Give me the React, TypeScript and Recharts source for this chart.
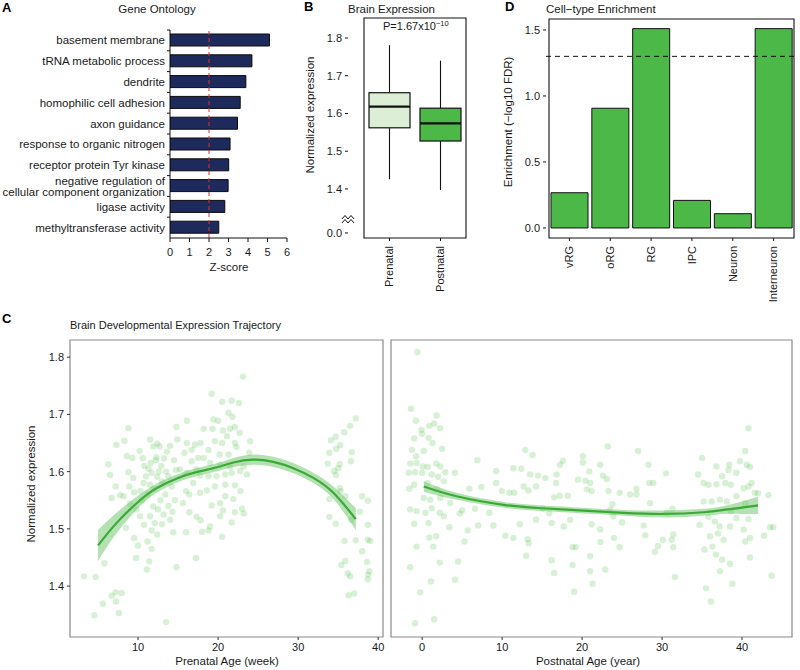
import React from "react";
import {
  BarChart,
  Bar,
  XAxis,
  YAxis,
  ReferenceLine,
  ReferenceArea,
  ComposedChart,
  Line,
  Area,
  Scatter,
} from "recharts";

const FONT = '"Liberation Sans", Arial, Helvetica, sans-serif';
const GREEN = "#4cb848";
const LINE_GREEN = "#3aa935";
const NAVY = "#1f2a5c";
const TXT = "#1a1a1a";

// ---------- Panel A: Gene Ontology ----------
const goTerms = [
  "basement membrane",
  "tRNA metabolic process",
  "dendrite",
  "homophilic cell adhesion",
  "axon guidance",
  "response to organic nitrogen",
  "receptor protein Tyr kinase",
  "negative regulation of\ncellular component organization",
  "ligase activity",
  "methyltransferase activity",
];
const goZ = [5.1, 4.2, 3.89, 3.6, 3.46, 3.08, 3.01, 2.98, 2.81, 2.5];
const goTicks = [0, 1, 2, 3, 4, 5, 6];
const goThreshold = 2;

// ---------- Panel B: Brain expression box plot ----------
const bCategories = ["Prenatal", "Postnatal"];
const bLow = [1.426, 1.397];
const bQ1 = [1.562, 1.527];
const bMedian = [1.618, 1.574];
const bQ3 = [1.655, 1.614];
const bHigh = [1.781, 1.74];
const bFills = ["#dcefd6", GREEN];
const bTickValues = [1.2834, 1.4, 1.5, 1.6, 1.7, 1.8];
const bTickLabels = ["0.0", "1.4", "1.5", "1.6", "1.7", "1.8"];

// ---------- Panel D: Cell-type enrichment ----------
const dCategories = ["vRG", "oRG", "RG", "IPC", "Neuron", "Interneuron"];
const dValues = [0.267, 0.907, 1.51, 0.209, 0.108, 1.51];
const dTicks = [0, 0.5, 1.0, 1.5];
const dThreshold = 1.3;

// ---------- Panel C: trajectories ----------
const prenatalPoints: [number, number][] = [
  [8.8, 1.676], [7.3, 1.647], [8.3, 1.654], [6.3, 1.613], [6.5, 1.594], [7.2, 1.574], [6.7, 1.554], [7.75, 1.559],
  [8.2, 1.557], [8.6, 1.627], [8.8, 1.599], [9.3, 1.624], [10.2, 1.636], [10.6, 1.624], [9.4, 1.589], [8.9, 1.574],
  [9.5, 1.564], [10.3, 1.566], [9.0, 1.544], [9.8, 1.534], [8.5, 1.502], [9.5, 1.484], [10, 1.471], [9.75, 1.449],
  [5.8, 1.44], [11.1, 1.429], [11.4, 1.443], [11.7, 1.465], [11.2, 1.478], [11.5, 1.656], [11.9, 1.644], [12.4, 1.649],
  [12.7, 1.644], [11.6, 1.615], [12.25, 1.62], [13.25, 1.623], [14, 1.645], [13.6, 1.635], [14.8, 1.678], [14.9, 1.656],
  [11, 1.592], [11.7, 1.598], [12.4, 1.591], [13, 1.583], [13.8, 1.592], [14.2, 1.574], [14.75, 1.603], [11.5, 1.577],
  [10.7, 1.58], [11.9, 1.539], [12.5, 1.534], [11.5, 1.522], [13.2, 1.525], [14, 1.516], [12.1, 1.51], [13, 1.508],
  [11.7, 1.497], [12.4, 1.49], [14.4, 1.494], [10.75, 1.507], [10.25, 1.522], [14.8, 1.433], [13.5, 1.337], [3.25, 1.417],
  [4.7, 1.416], [4.55, 1.349], [5.6, 1.369], [6.7, 1.383], [7.2, 1.389], [7.95, 1.388], [7.25, 1.373], [7.6, 1.353],
  [12.3, 1.625], [12.9, 1.61], [13.5, 1.6], [14.5, 1.62], [12, 1.57], [13.4, 1.56], [14.6, 1.55], [10.5, 1.55],
  [11.2, 1.56], [13.8, 1.54], [12.8, 1.55], [14.3, 1.53], [10.8, 1.61], [12.6, 1.6], [11.3, 1.605],
  [23.1, 1.766], [19.2, 1.736], [20.5, 1.722], [21.7, 1.724], [22.6, 1.72], [21.3, 1.703], [21.8, 1.696], [19.4, 1.691],
  [20, 1.689], [16.1, 1.689], [18.2, 1.675], [19.3, 1.675], [20.6, 1.672], [21.5, 1.675], [22.1, 1.678], [22.7, 1.668],
  [21.1, 1.662], [19.6, 1.653], [20.5, 1.65], [22.1, 1.65], [24, 1.653], [17.1, 1.647], [17.8, 1.65], [16.1, 1.65],
  [16.7, 1.638], [18.8, 1.638], [22.3, 1.643], [20.2, 1.63], [15.8, 1.633], [17.5, 1.624], [18.2, 1.624], [16.7, 1.618],
  [21.3, 1.63], [23.9, 1.633], [19, 1.615], [20.25, 1.612], [21.5, 1.609], [23.2, 1.609], [23.6, 1.595], [22.75, 1.601],
  [17.3, 1.604], [15.25, 1.604], [16.1, 1.598], [17.75, 1.593], [18.8, 1.592], [19.8, 1.592], [20.9, 1.595], [21.7, 1.598],
  [16.9, 1.58], [19.6, 1.574], [20.9, 1.577], [22.1, 1.576], [18.6, 1.567], [16, 1.566], [22.8, 1.566], [17.75, 1.563],
  [16.4, 1.56], [20.9, 1.557], [21.9, 1.552], [15.6, 1.545], [19.2, 1.541], [20.25, 1.545], [16.4, 1.529], [20.6, 1.532],
  [22.1, 1.529], [23.2, 1.527], [23, 1.535], [17.3, 1.521], [20.25, 1.522], [17.8, 1.515], [21.7, 1.511], [19, 1.504],
  [18.8, 1.497], [18, 1.495], [16, 1.494], [20.5, 1.486], [17.25, 1.449],
  [37.2, 1.693], [36.5, 1.68], [35.75, 1.669], [34.7, 1.661], [34.1, 1.655], [35.25, 1.646], [34.75, 1.64], [33.9, 1.633],
  [36.7, 1.634], [36.6, 1.618], [33.7, 1.614], [35.2, 1.613], [35, 1.606], [34.5, 1.601], [34.7, 1.594], [35.2, 1.571],
  [35.3, 1.566], [35.9, 1.557], [33.9, 1.552], [38, 1.557], [38.7, 1.549], [37.7, 1.53], [33.9, 1.521], [36.6, 1.516],
  [34.7, 1.509], [38.7, 1.507], [35.8, 1.479], [37.2, 1.48], [38.7, 1.481], [39, 1.479], [38, 1.461], [35.9, 1.444],
  [35.4, 1.437], [38.6, 1.442], [36.2, 1.422], [36.5, 1.417], [38.9, 1.426], [38.75, 1.42], [38.7, 1.412], [36.3, 1.384],
  [37, 1.387],
];

const postnatalPoints: [number, number][] = [
  [-0.6, 1.809], [-1.4, 1.71], [-0.8, 1.689], [-0.1, 1.673], [1.8, 1.698], [1.5, 1.684], [0.9, 1.68], [2.25, 1.676],
  [-1.0, 1.658], [0, 1.666], [0.8, 1.659], [1.3, 1.65], [-1.3, 1.638], [0.2, 1.636], [2.5, 1.64], [-0.75, 1.627],
  [-1.5, 1.614], [-0.7, 1.615], [0.1, 1.609], [0.7, 1.608], [1.75, 1.614], [2.25, 1.609], [-1.7, 1.598], [-0.9, 1.599],
  [0, 1.598], [1.2, 1.595], [2, 1.591], [2.9, 1.599], [4.1, 1.598], [-1.0, 1.577], [-1.6, 1.57], [0.7, 1.58],
  [1.8, 1.569], [2.7, 1.583], [3.5, 1.545], [0.2, 1.554], [1, 1.551], [2.25, 1.554], [-1.5, 1.534], [-0.7, 1.531],
  [0.4, 1.528], [1.2, 1.536], [2.2, 1.528], [2.7, 1.522], [-1, 1.509], [0.8, 1.51], [1.75, 1.487], [0.9, 1.485],
  [3.4, 1.503], [4.7, 1.527], [5, 1.532], [5.3, 1.478], [1.4, 1.469], [-0.7, 1.469], [2.2, 1.441], [4.5, 1.443],
  [-1.5, 1.433], [1.1, 1.408], [4.1, 1.411], [-0.25, 1.389], [1.5, 1.342], [-0.9, 1.335], [5.7, 1.497], [5.9, 1.57],
  [6.9, 1.62], [6.6, 1.535], [7.0, 1.506], [7.4, 1.573], [9.25, 1.601], [8.9, 1.506], [8.4, 1.528], [9.25, 1.58],
  [9.96, 1.566], [10.4, 1.488], [10.9, 1.563], [11.4, 1.606], [11.5, 1.563], [12.4, 1.605], [12.7, 1.574], [12.2, 1.508],
  [11.4, 1.484], [13.0, 1.453], [12.9, 1.638], [13.8, 1.629], [13.3, 1.567], [14.25, 1.574], [13.5, 1.595], [13.2, 1.482],
  [13.3, 1.475], [14.25, 1.516], [15.1, 1.535], [15.4, 1.589], [14.5, 1.593], [16.2, 1.445], [16.5, 1.423], [16.2, 1.51],
  [15.9, 1.527], [16.5, 1.555], [16.8, 1.595], [17.25, 1.612], [17.6, 1.619], [16.75, 1.58], [17.2, 1.558], [18.2, 1.558],
  [18.5, 1.516], [17.7, 1.504], [18.8, 1.468], [19.2, 1.468], [18.8, 1.437], [19.0, 1.39], [19.5, 1.586], [20.1, 1.616],
  [20.1, 1.627], [20.4, 1.584], [20.6, 1.569], [21, 1.58], [21.2, 1.566], [20.9, 1.6], [21.2, 1.508], [21, 1.452],
  [21, 1.426], [21.3, 1.404], [22.25, 1.612], [22.3, 1.477], [22.25, 1.499], [22.6, 1.593], [23.1, 1.587], [23.3, 1.566],
  [23.2, 1.644], [22.9, 1.429], [23.5, 1.534], [23.9, 1.522], [24.0, 1.484], [24.7, 1.468], [24.7, 1.563], [23.8, 1.543],
  [25, 1.511], [26, 1.56], [26.8, 1.56], [27, 1.636], [26.8, 1.57], [27.7, 1.506], [27.9, 1.489], [28.3, 1.612],
  [28.4, 1.58], [28.9, 1.58], [29.1, 1.46], [29.5, 1.47], [28.5, 1.545], [30.5, 1.597], [30.6, 1.528], [30.1, 1.481],
  [31.2, 1.481], [31.4, 1.468], [31.4, 1.49], [31.6, 1.416], [31.3, 1.535], [34.5, 1.595], [35, 1.624], [34.7, 1.507],
  [35.3, 1.464], [35.5, 1.396], [36.1, 1.373], [35.2, 1.58], [35.8, 1.577], [36.2, 1.548], [35.2, 1.548], [35.8, 1.521],
  [36, 1.487], [36.3, 1.469], [36.8, 1.609], [37.5, 1.592], [36.8, 1.578], [37.9, 1.58], [37.25, 1.551], [38.1, 1.548],
  [36.6, 1.513], [37.2, 1.504], [37, 1.492], [37.7, 1.481], [36.75, 1.455], [37.5, 1.446], [37.25, 1.426], [38.5, 1.439],
  [38.8, 1.404], [38.4, 1.612], [38.3, 1.603], [39.3, 1.598], [39.75, 1.618], [40.4, 1.636], [40.8, 1.676], [40.6, 1.612],
  [41, 1.608], [40.2, 1.571], [40.8, 1.574], [41.2, 1.58], [38.6, 1.577], [39.3, 1.557], [40.4, 1.545], [41.6, 1.563],
  [42, 1.562], [38.6, 1.531], [39.3, 1.519], [40.8, 1.517], [38.5, 1.504], [40.2, 1.499], [41, 1.484], [41, 1.45],
  [40.4, 1.478], [43.3, 1.559], [42.75, 1.488], [43.5, 1.503], [43.9, 1.503], [43.7, 1.418],
];

const prenatalFitAge = [5, 7.3, 10, 12.3, 15, 17.3, 20, 21.9, 24.4, 26.9, 29.4, 31.9, 34.4, 37.2];
const prenatalFit = [1.471, 1.51, 1.547, 1.571, 1.589, 1.599, 1.608, 1.616, 1.621, 1.617, 1.606, 1.589, 1.563, 1.517];
const prenatalSE = [0.027, 0.018, 0.011, 0.008, 0.007, 0.007, 0.007, 0.008, 0.009, 0.009, 0.009, 0.009, 0.011, 0.019];

const postnatalFitAge = [0.2, 4.3, 10.2, 15, 20.2, 25.2, 30.2, 35.2, 37.7, 40, 42];
const postnatalFit = [1.574, 1.557, 1.542, 1.536, 1.532, 1.528, 1.526, 1.529, 1.533, 1.537, 1.541];
const postnatalSE = [0.009, 0.006, 0.005, 0.005, 0.005, 0.005, 0.006, 0.006, 0.007, 0.011, 0.015];

const cYTicks = [1.4, 1.5, 1.6, 1.7, 1.8];
const cYDomain: [number, number] = [1.311, 1.83];
const prenatalXTicks = [10, 20, 30, 40];
const prenatalXDomain: [number, number] = [1.5, 40.6];
const postnatalXTicks = [0, 10, 20, 30, 40];
const postnatalXDomain: [number, number] = [-3.9, 46.25];

// ---------- tables built from arrays ----------
const goData = goTerms.map((t, i) => ({ term: t, z: goZ[i] }));
const boxData = bCategories.map((c, i) => ({
  cat: c,
  low: bLow[i],
  q1: bQ1[i],
  med: bMedian[i],
  q3: bQ3[i],
  high: bHigh[i],
  fill: bFills[i],
}));
const dData = dCategories.map((c, i) => ({ cat: c, v: dValues[i] }));
const prenatalFitData = prenatalFitAge.map((x, i) => ({
  x,
  fit: prenatalFit[i],
  band: [prenatalFit[i] - prenatalSE[i], prenatalFit[i] + prenatalSE[i]],
}));
const postnatalFitData = postnatalFitAge.map((x, i) => ({
  x,
  fit: postnatalFit[i],
  band: [postnatalFit[i] - postnatalSE[i], postnatalFit[i] + postnatalSE[i]],
}));
const prenatalScatter = prenatalPoints.map(([x, y]) => ({ x, y }));
const postnatalScatter = postnatalPoints.map(([x, y]) => ({ x, y }));

const tickStyle = { fontSize: 11, fill: TXT, fontFamily: FONT };

function GoTick(props: any) {
  const { x, y, payload } = props;
  const lines = String(payload.value).split("\n");
  const lh = 11;
  const y0 = y - ((lines.length - 1) * lh) / 2;
  return (
    <g>
      <line x1={x + 5} x2={x + 2} y1={y - 10.4} y2={y - 10.4} stroke="#111" strokeWidth={1} />
      <text textAnchor="end" fontSize={11.5} fontFamily={FONT} fill={TXT}>
        {lines.map((l, i) => (
          <tspan key={i} x={x} y={y0 + i * lh} dy="0.35em">
            {l}
          </tspan>
        ))}
      </text>
    </g>
  );
}

function RotTick(props: any) {
  const { x, y, payload } = props;
  return (
    <text
      x={x}
      y={y}
      transform={`rotate(-90, ${x}, ${y})`}
      textAnchor="end"
      dy="0.35em"
      fontSize={11}
      fontFamily={FONT}
      fill={TXT}
    >
      {payload.value}
    </text>
  );
}

function BoxShape(props: any) {
  const { x, y, width, height, payload } = props;
  const top = Math.min(y, y + height);
  const h = Math.abs(height);
  const { low, high, q1, q3, med, fill } = payload;
  const pix = (v: number) => top + ((high - v) / (high - low)) * h;
  const cx = x + width / 2;
  return (
    <g>
      <line x1={cx} x2={cx} y1={pix(high)} y2={pix(low)} stroke="#111" strokeWidth={1.1} />
      <rect x={x} y={pix(q3)} width={width} height={pix(q1) - pix(q3)} fill={fill} stroke="#111" strokeWidth={1.2} />
      <line x1={x} x2={x + width} y1={pix(med)} y2={pix(med)} stroke="#111" strokeWidth={2.2} />
    </g>
  );
}

const Dot = (p: any) => <circle cx={p.cx} cy={p.cy} r={3.2} fill="#5cbf55" fillOpacity={0.24} />;

function Pos({ left, top, children }: any) {
  return <div style={{ position: "absolute", left, top }}>{children}</div>;
}

export default function App() {
  return (
    <div
      style={{
        position: "absolute",
        left: 0,
        top: 0,
        width: 800,
        height: 670,
        background: "#fff",
        fontFamily: FONT,
        overflow: "hidden",
      }}
    >
      {/* Panel A */}
      <Pos left={0} top={0}>
        <BarChart
          width={300}
          height={290}
          data={goData}
          layout="vertical"
          margin={{ top: 30, right: 13, bottom: 22, left: 0 }}
        >
          <XAxis
            type="number"
            domain={[0, 6]}
            ticks={goTicks}
            height={30}
            tick={tickStyle}
            tickSize={4}
            tickMargin={6}
            stroke="#111"
            allowDataOverflow
          />
          <YAxis
            type="category"
            dataKey="term"
            width={170}
            interval={0}
            tick={<GoTick />}
            tickSize={0}
            tickMargin={5}
            tickLine={false}
            stroke="#111"
          />
          <Bar dataKey="z" barSize={12} fill={NAVY} stroke="#0a0a0a" strokeWidth={1} isAnimationActive={false} />
          <ReferenceLine x={goThreshold} stroke="#e0302a" strokeDasharray="4 3" strokeWidth={1} />
        </BarChart>
      </Pos>

      {/* Panel B */}
      <Pos left={290} top={0}>
        <BarChart
          width={200}
          height={310}
          data={boxData}
          margin={{ top: 18, right: 8, bottom: 20, left: 0 }}
        >
          <XAxis
            dataKey="cat"
            padding={{ left: 16, right: 16 }}
            height={52}
            interval={0}
            tick={<RotTick />}
            tickSize={3}
            tickMargin={5}
            axisLine={false}
            stroke="#111"
          />
          <YAxis
            domain={[1.27, 1.853]}
            ticks={bTickValues}
            tickFormatter={(v: number) => bTickLabels[bTickValues.indexOf(v)] ?? String(v)}
            width={58}
            tick={tickStyle}
            tickSize={3}
            tickMargin={3}
            axisLine={false}
            stroke="#111"
            allowDataOverflow
          />
          <ReferenceArea y1={1.27} y2={1.853} fill="none" stroke="#111" strokeWidth={1.1} />
          <Bar
            dataKey={(d: any) => [d.low, d.high]}
            barSize={41}
            shape={<BoxShape />}
            isAnimationActive={false}
          />
        </BarChart>
      </Pos>

      {/* Panel D */}
      <Pos left={480} top={0}>
        <BarChart
          width={320}
          height={320}
          data={dData}
          margin={{ top: 19, right: 3, bottom: 30, left: 0 }}
        >
          <XAxis
            dataKey="cat"
            padding={{ left: 3, right: 3 }}
            height={52}
            interval={0}
            tick={<RotTick />}
            tickSize={3}
            tickMargin={5}
            axisLine={false}
            stroke="#111"
          />
          <YAxis
            domain={[-0.076, 1.583]}
            ticks={dTicks}
            tickFormatter={(v: number) => v.toFixed(1)}
            width={66}
            tick={tickStyle}
            tickSize={3}
            tickMargin={3}
            axisLine={false}
            stroke="#111"
            allowDataOverflow
          />
          <ReferenceArea y1={-0.076} y2={1.583} fill="none" stroke="#111" strokeWidth={1.1} />
          <Bar dataKey="v" barSize={37} fill={GREEN} stroke="#111" strokeWidth={1} isAnimationActive={false} />
          <ReferenceLine y={dThreshold} stroke="#111" strokeDasharray="5 4" strokeWidth={1} />
        </BarChart>
      </Pos>

      {/* Panel C left */}
      <Pos left={0} top={330}>
        <ComposedChart
          width={392}
          height={340}
          data={prenatalFitData}
          margin={{ top: 10, right: 9, bottom: 3, left: 0 }}
        >
          <XAxis
            type="number"
            dataKey="x"
            domain={prenatalXDomain}
            ticks={prenatalXTicks}
            height={30}
            tick={tickStyle}
            tickSize={3}
            tickMargin={3}
            axisLine={false}
            stroke="#333"
            allowDataOverflow
          />
          <YAxis
            type="number"
            domain={cYDomain}
            ticks={cYTicks}
            tickFormatter={(v: number) => v.toFixed(1)}
            width={70}
            tick={tickStyle}
            tickSize={3}
            tickMargin={3}
            axisLine={false}
            stroke="#333"
            allowDataOverflow
          />
          <ReferenceArea y1={cYDomain[0]} y2={cYDomain[1]} fill="none" stroke="#8a8a8a" strokeWidth={1.2} />
          <Scatter data={prenatalScatter} dataKey="y" shape={Dot} isAnimationActive={false} />
          <Area
            type="natural"
            dataKey="band"
            stroke="none"
            fill={GREEN}
            fillOpacity={0.42}
            isAnimationActive={false}
          />
          <Line
            type="natural"
            dataKey="fit"
            stroke={LINE_GREEN}
            strokeWidth={2.2}
            dot={false}
            isAnimationActive={false}
          />
        </ComposedChart>
      </Pos>

      {/* Panel C right */}
      <Pos left={383} top={330}>
        <ComposedChart
          width={417}
          height={340}
          data={postnatalFitData}
          margin={{ top: 10, right: 8, bottom: 3, left: 8 }}
        >
          <XAxis
            type="number"
            dataKey="x"
            domain={postnatalXDomain}
            ticks={postnatalXTicks}
            height={30}
            tick={tickStyle}
            tickSize={3}
            tickMargin={3}
            axisLine={false}
            stroke="#333"
            allowDataOverflow
          />
          <YAxis type="number" domain={cYDomain} hide allowDataOverflow />
          <ReferenceArea y1={cYDomain[0]} y2={cYDomain[1]} fill="none" stroke="#8a8a8a" strokeWidth={1.2} />
          <Scatter data={postnatalScatter} dataKey="y" shape={Dot} isAnimationActive={false} />
          <Area
            type="natural"
            dataKey="band"
            stroke="none"
            fill={GREEN}
            fillOpacity={0.42}
            isAnimationActive={false}
          />
          <Line
            type="natural"
            dataKey="fit"
            stroke={LINE_GREEN}
            strokeWidth={2.2}
            dot={false}
            isAnimationActive={false}
          />
        </ComposedChart>
      </Pos>

      {/* Text overlay */}
      <svg
        width={800}
        height={670}
        style={{ position: "absolute", left: 0, top: 0, pointerEvents: "none" }}
        fontFamily={FONT}
      >
        <g fontWeight="bold" fontSize={13} fill="#000">
          <text x={2} y={12}>A</text>
          <text x={304} y={11}>B</text>
          <text x={505} y={11}>D</text>
          <text x={2} y={323}>C</text>
        </g>
        <g fontSize={11.5} fill={TXT}>
          <text x={157} y={13} textAnchor="middle">Gene Ontology</text>
          <text x={229} y={271} textAnchor="middle">Z-score</text>
          <text x={348} y={13}>Brain Expression</text>
          <text x={383} y={30} fontSize={11}>
            P=1.67x10
            <tspan dy={-4} fontSize={7.5}>−10</tspan>
          </text>
          <text x={546} y={13}>Cell−type Enrichment</text>
          <text x={70} y={329} fontSize={11}>Brain Developmental Expression Trajectory</text>
          <text transform="translate(314,115) rotate(-90)" textAnchor="middle">Normalized expression</text>
          <text transform="translate(512,122) rotate(-90)" textAnchor="middle">Enrichment (−log10 FDR)</text>
          <text transform="translate(35,484) rotate(-90)" textAnchor="middle">Normalized expression</text>
          <text x={227} y={665} textAnchor="middle">Prenatal Age (week)</text>
          <text x={588} y={665} textAnchor="middle">Postnatal Age (year)</text>
        </g>
        {/* axis break marks on panel B */}
        <g stroke="#111" strokeWidth={1} fill="none">
          <polyline points="342,219 345,215.5 348,219 351,215.5 354,219" />
          <polyline points="342,223 345,219.5 348,223 351,219.5 354,223" />
        </g>
      </svg>
    </div>
  );
}
